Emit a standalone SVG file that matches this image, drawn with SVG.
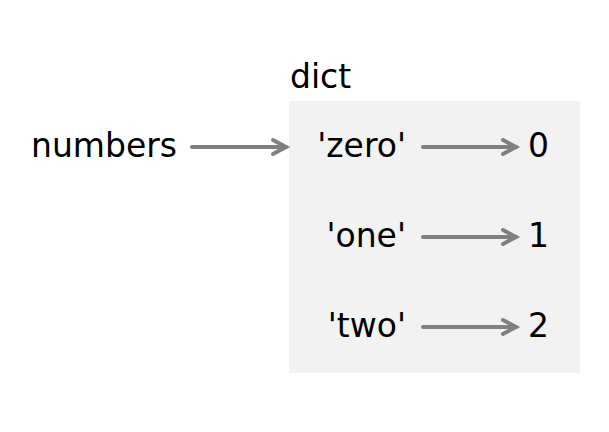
<svg xmlns="http://www.w3.org/2000/svg" width="609" height="432" viewBox="0 0 609 432">
<style>
text{font-family:"DejaVu Sans",sans-serif;font-size:33px;fill:#000}
.k{text-anchor:end}
.a{stroke:#808080;stroke-width:4;stroke-linecap:round;fill:none}
</style>
<defs>
<marker id="ah" viewBox="0 0 10 10" refX="9" refY="5" markerWidth="10" markerHeight="10" markerUnits="userSpaceOnUse" orient="auto" overflow="visible">
<path d="M-4,-2 L9,5 L-4,12" stroke="#808080" stroke-width="4" fill="none" stroke-linecap="round" stroke-linejoin="miter"/>
</marker>
</defs>
<rect width="609" height="432" fill="#fff"/>
<g id="dict">
<rect x="289" y="101" width="291" height="272" fill="#f2f2f2"/>
<text x="290" y="88">dict</text>
</g>
<g id="numbers"><text class="k" x="177" y="157">numbers</text></g>
<g id="k0"><text class="k" x="406" y="157">'zero'</text></g>
<g id="k1"><text class="k" x="406" y="247">'one'</text></g>
<g id="k2"><text class="k" x="406" y="337">'two'</text></g>
<g id="v0"><text x="528" y="157">0</text></g>
<g id="v1"><text x="528" y="247">1</text></g>
<g id="v2"><text x="528" y="337">2</text></g>
<g id="connectors">
<path class="a" d="M192,147 H286" marker-end="url(#ah)"/>
<path class="a" d="M423,147 H516" marker-end="url(#ah)"/>
<path class="a" d="M423,237 H516" marker-end="url(#ah)"/>
<path class="a" d="M423,327 H516" marker-end="url(#ah)"/>
</g>
</svg>
